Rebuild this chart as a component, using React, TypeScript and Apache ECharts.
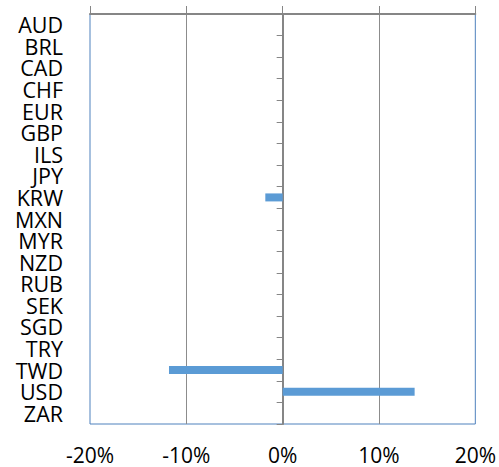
import React, { useEffect, useRef } from "react";
import * as echarts from "echarts";

const categories = ["AUD", "BRL", "CAD", "CHF", "EUR", "GBP", "ILS", "JPY", "KRW", "MXN", "MYR", "NZD", "RUB", "SEK", "SGD", "TRY", "TWD", "USD", "ZAR"];
const values = [0, 0, 0, 0, 0, 0, 0, 0, -1.8, 0, 0, 0, 0, 0, 0, 0, -11.8, 0, 0];
const values2 = [0, 0, 0, 0, 0, 0, 0, 0, 0, 0, 0, 0, 0, 0, 0, 0, 0, 13.7, 0];
const xMin = -20;
const xMax = 20;
const xStep = 10;

export default function App() {
  const ref = useRef<HTMLDivElement>(null);
  useEffect(() => {
    if (!ref.current) return;
    const chart = echarts.init(ref.current, null, { renderer: "svg" });
    const font = "Open Sans";
    const combined = values.map((v, i) => (v !== 0 ? v : values2[i]));
    chart.setOption({
      animation: false,
      backgroundColor: "#ffffff",
      grid: {
        left: 90,
        right: 22,
        top: 14,
        bottom: 43,
        show: true,
        borderColor: "#4f81bd",
        borderWidth: 1,
        backgroundColor: "transparent",
      },
      xAxis: [
        {
          type: "value",
          position: "bottom",
          min: xMin,
          max: xMax,
          interval: xStep,
          axisLine: { show: false },
          axisTick: { show: false },
          axisLabel: {
            formatter: "{value}%",
            fontFamily: font,
            fontSize: 21,
            lineHeight: 21,
            color: "#000",
            margin: 20,
          },
          splitLine: {
            show: true,
            showMinLine: false,
            showMaxLine: false,
            lineStyle: { color: "#8c8c8c", width: 1 },
          },
        },
        {
          type: "value",
          position: "top",
          min: xMin,
          max: xMax,
          interval: xStep,
          axisLine: { show: true, onZero: false, lineStyle: { color: "#868686", width: 2 } },
          axisTick: { show: true, length: 8, lineStyle: { color: "#868686", width: 1 } },
          axisLabel: { show: false },
          splitLine: { show: false },
        },
      ],
      yAxis: [
        {
          type: "category",
          inverse: true,
          data: categories,
          position: "left",
          axisLine: { show: false },
          axisTick: { show: false },
          axisLabel: {
            interval: 0,
            fontFamily: font,
            fontSize: 21.5,
            lineHeight: 20,
            color: "#000",
            margin: 27,
          },
          splitLine: { show: false },
        },
        {
          type: "category",
          inverse: true,
          data: categories,
          position: "right",
          axisLine: {
            show: true,
            onZero: true,
            lineStyle: { color: "#868686", width: 2 },
          },
          axisTick: {
            show: true,
            inside: true,
            length: 6,
            interval: 0,
            lineStyle: { color: "#868686", width: 1 },
          },
          axisLabel: { show: false },
          splitLine: { show: false },
        },
      ],
      series: [
        {
          type: "bar",
          xAxisIndex: 0,
          yAxisIndex: 0,
          data: combined,
          barWidth: 8,
          itemStyle: { color: "#5b9bd5" },
          z: 1,
        },
      ],
    });
    return () => chart.dispose();
  }, []);
  return (
    <div
      ref={ref}
      style={{ position: "fixed", left: 0, top: 0, width: 499, height: 467 }}
    />
  );
}
